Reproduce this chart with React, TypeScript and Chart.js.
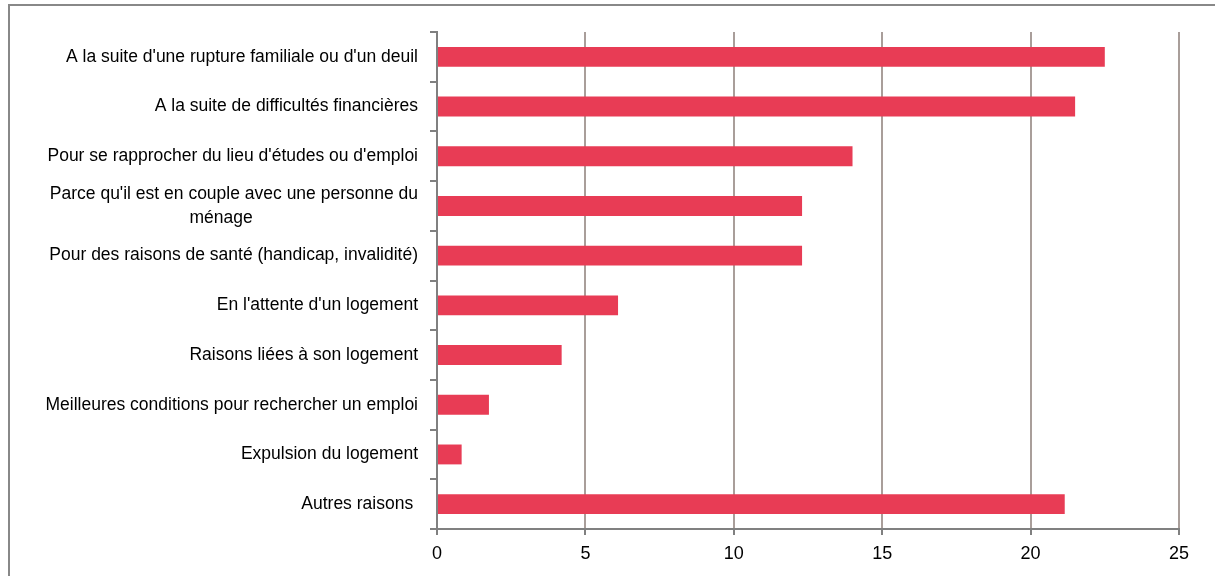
import React, { useEffect, useRef } from "react";
import { Chart, registerables } from "chart.js";

Chart.register(...registerables);

const categories: (string | string[])[] = [
  "A la suite d'une rupture familiale ou d'un deuil",
  "A la suite de difficultés financières",
  "Pour se rapprocher du lieu d'études ou d'emploi",
  ["Parce qu'il est en couple avec une personne du", "ménage" + " ".repeat(34)],
  "Pour des raisons de santé (handicap, invalidité)",
  "En l'attente d'un logement",
  "Raisons liées à son logement",
  "Meilleures conditions pour rechercher un emploi",
  "Expulsion du logement",
  "Autres raisons ",
];

const values: number[] = [22.5, 21.5, 14.0, 12.3, 12.3, 6.1, 4.2, 1.75, 0.83, 21.15];

const xTicks: number[] = [0, 5, 10, 15, 20, 25];

const FONT = "'Liberation Sans', Arial, sans-serif";

export default function App() {
  const ref = useRef<HTMLCanvasElement | null>(null);

  useEffect(() => {
    if (!ref.current) return;
    const chart = new Chart(ref.current, {
      type: "bar",
      data: {
        labels: categories,
        datasets: [
          {
            data: values,
            backgroundColor: "#e83c55",
            borderWidth: 0,
            barPercentage: 0.4,
            categoryPercentage: 1,
          },
        ],
      },
      options: {
        indexAxis: "y",
        responsive: false,
        animation: false,
        layout: { padding: { top: 26, right: 36, bottom: 0, left: 0 } },
        plugins: {
          legend: { display: false },
          tooltip: { enabled: false },
        },
        scales: {
          x: {
            type: "linear",
            min: 0,
            max: 25,
            afterBuildTicks: (scale: any) => {
              scale.ticks = xTicks.map((v) => ({ value: v }));
            },
            afterFit: (scale: any) => {
              scale.height = 47;
            },
            grid: {
              color: (ctx: any) => (ctx.tick && ctx.tick.value === 0 ? "rgba(0,0,0,0)" : "#a99e9a"),
              lineWidth: 2,
              tickLength: 6,
              tickColor: "#808080",
              tickWidth: 2,
              drawTicks: true,
            },
            border: { display: true, color: "#808080", width: 2 },
            ticks: {
              color: "#000",
              padding: 8,
              font: { family: FONT, size: 18 },
              maxRotation: 0,
            },
          },
          y: {
            type: "category",
            afterFit: (scale: any) => {
              scale.width = 427;
            },
            grid: {
              offset: true,
              drawOnChartArea: false,
              drawTicks: true,
              tickLength: 7,
              color: "#808080",
              lineWidth: 2,
            },
            border: { display: true, color: "#808080", width: 2 },
            ticks: {
              color: "#000",
              padding: 12,
              autoSkip: false,
              font: { family: FONT, size: 17.5, lineHeight: 1.37 },
            },
          },
        },
      },
    });
    return () => chart.destroy();
  }, []);

  return (
    <div
      style={{
        position: "absolute",
        left: 8,
        top: 4,
        width: 1207,
        height: 572,
        borderLeft: "2px solid #888",
        borderTop: "2px solid #888",
        boxSizing: "border-box",
        background: "#fff",
        overflow: "hidden",
      }}
    >
      <canvas ref={ref} width={1205} height={570} style={{ display: "block" }} />
    </div>
  );
}
